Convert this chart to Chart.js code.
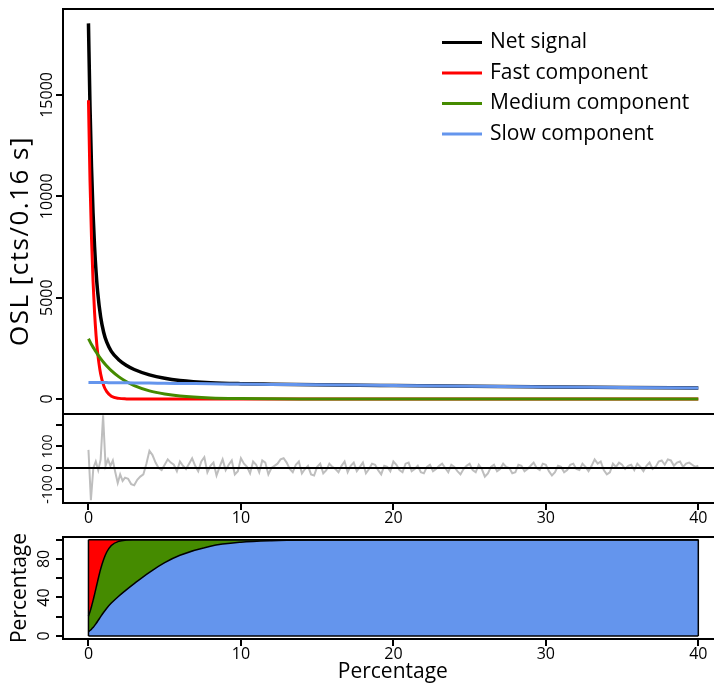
<!DOCTYPE html>
<html>
<head>
<meta charset="utf-8">
<title>OSL curve deconvolution</title>
<script src="https://cdn.jsdelivr.net/npm/chart.js@4.4.1/dist/chart.umd.min.js"></script>
<style>
  html, body { margin: 0; padding: 0; background: #fff; overflow: hidden; }
  #wrap { position: relative; width: 714px; height: 685px; overflow: hidden; }
  canvas { position: absolute; left: 0; }
  #topChart { top: 0; }
  #resChart { top: 412px; }
  #pctChart { top: 530px; }
</style>
</head>
<body>
<div id="wrap">
  <canvas id="topChart" width="724" height="416"></canvas>
  <canvas id="resChart" width="724" height="118"></canvas>
  <canvas id="pctChart" width="724" height="155"></canvas>
</div>
<script>
// Values (time in s)
const fitTime    = [0, 0.1, 0.2, 0.3, 0.4, 0.5, 0.6, 0.8, 1, 1.2, 1.5, 2, 2.5, 3, 4, 5, 6, 8, 10, 12, 15, 20, 25, 30, 35, 40];
const netSignal  = [18530, 14460, 11440, 9190, 7520, 6260, 5310, 4040, 3280, 2800, 2350, 1925, 1655, 1455, 1190, 1020, 915, 805, 755, 730, 700, 662, 628, 597, 567, 540];
const fastComp   = [14740, 10810, 7930, 5820, 4270, 3130, 2300, 1230, 660, 360, 140, 30, 6, 1, 0, 0, 0, 0, 0, 0, 0, 0, 0, 0, 0, 0];
const mediumComp = [2975, 2830, 2690, 2560, 2440, 2320, 2200, 1990, 1800, 1630, 1400, 1090, 850, 660, 400, 245, 150, 55, 20, 7, 2, 0, 0, 0, 0, 0];
const slowComp   = [818, 817, 816, 815, 815, 814, 813, 811, 810, 808, 805, 801, 797, 793, 785, 776, 768, 752, 736, 721, 698, 662, 628, 597, 567, 540];

// component contribution in percent (cumulative, slow at the bottom)
const pctSlow    = [4.4, 5.7, 7.1, 8.9, 10.8, 13.0, 15.3, 20.1, 24.7, 28.9, 34.2, 41.6, 48.2, 54.4, 66.1, 76.1, 83.8, 93.3, 97.4, 99.0, 99.7, 100, 100, 100, 100, 100];
const pctSlowMed = [20.5, 25.2, 30.7, 36.7, 43.3, 50.0, 56.8, 69.5, 79.7, 87.2, 94.0, 98.4, 99.6, 99.9, 100, 100, 100, 100, 100, 100, 100, 100, 100, 100, 100, 100];
const pctTop     = [100, 100, 100, 100, 100, 100, 100, 100, 100, 100, 100, 100, 100, 100, 100, 100, 100, 100, 100, 100, 100, 100, 100, 100, 100, 100];
const pctBase    = [0, 0, 0, 0, 0, 0, 0, 0, 0, 0, 0, 0, 0, 0, 0, 0, 0, 0, 0, 0, 0, 0, 0, 0, 0, 0];

// residuals of the fit
const resTime = [0, 0.16, 0.32, 0.48, 0.64, 0.8, 0.96, 1.12, 1.28, 1.44, 1.6, 1.76, 1.92, 2.08, 2.24, 2.4,
  2.6, 2.8, 3, 3.2, 3.4, 3.6, 3.8, 4, 4.2, 4.4,
  4.6, 4.8, 5, 5.2, 5.4, 5.6, 5.8, 6, 6.2, 6.4,
  6.6, 6.8, 7, 7.2, 7.4, 7.6, 7.8, 8, 8.2, 8.4,
  8.6, 8.8, 9, 9.2, 9.4, 9.6, 9.8, 10, 10.2, 10.4,
  10.6, 10.8, 11, 11.2, 11.4, 11.6, 11.8, 12, 12.2, 12.4,
  12.6, 12.8, 13, 13.2, 13.4, 13.6, 13.8, 14, 14.2, 14.4,
  14.6, 14.8, 15, 15.2, 15.4, 15.6, 15.8, 16, 16.2, 16.4,
  16.6, 16.8, 17, 17.2, 17.4, 17.6, 17.8, 18, 18.2, 18.4,
  18.6, 18.8, 19, 19.2, 19.4, 19.6, 19.8, 20, 20.2, 20.4,
  20.6, 20.8, 21, 21.2, 21.4, 21.6, 21.8, 22, 22.2, 22.4,
  22.6, 22.8, 23, 23.2, 23.4, 23.6, 23.8, 24, 24.2, 24.4,
  24.6, 24.8, 25, 25.2, 25.4, 25.6, 25.8, 26, 26.2, 26.4,
  26.6, 26.8, 27, 27.2, 27.4, 27.6, 27.8, 28, 28.2, 28.4,
  28.6, 28.8, 29, 29.2, 29.4, 29.6, 29.8, 30, 30.2, 30.4,
  30.6, 30.8, 31, 31.2, 31.4, 31.6, 31.8, 32, 32.2, 32.4,
  32.6, 32.8, 33, 33.2, 33.4, 33.6, 33.8, 34, 34.2, 34.4,
  34.6, 34.8, 35, 35.2, 35.4, 35.6, 35.8, 36, 36.2, 36.4,
  36.6, 36.8, 37, 37.2, 37.4, 37.6, 37.8, 38, 38.2, 38.4,
  38.6, 38.8, 39, 39.2, 39.4, 39.6, 39.8, 40];
const residuals = [84, -150, 0, 30, -10, 40, 245, 10, 40, 10, 35, -20, -70, -30, -60, -45,
  -50, -75, -80, -55, -40, -30, 20, 80, 60, 25,
  0, -10, 15, 40, 25, 15, -15, 30, 10, -5,
  20, 45, 10, -15, 30, 50, -20, 10, 25, -35,
  5, 40, -10, 15, 35, -30, -15, 45, 20, 5,
  -25, 30, 15, -20, 35, 25, -30, 0, 10, 20,
  40, 45, 25, -5, -20, 15, 30, -25, -5, 10,
  -30, -35, 5, 20, -25, -10, 20, 5, -5, -20,
  10, 30, -20, 10, 25, -15, 5, 25, -25, -5,
  20, 15, -10, -30, 10, 5, -15, 30, 15, -10,
  -20, 20, 25, -15, -5, 10, -20, -25, 5, 15,
  -15, -5, 10, 20, 0, -20, 15, 5, -15, -30,
  -5, 10, 20, -10, -20, 15, -5, -40, -25, 5,
  15, -15, -5, 20, 5, 0, -25, -20, 15, 10,
  -15, -5, 10, 25, 0, -10, 20, 15, -15, -35,
  -20, 10, 5, -20, -10, 15, 20, -5, -10, 20,
  5, -15, 10, 40, 20, 30, -10, -30, -20, 20,
  5, 25, 15, -5, 10, 15, -10, 20, 5, -15,
  10, 25, -5, 5, 30, 35, 15, 40, 35, 10,
  25, 30, 5, 20, 25, 15, 5, 10];

// axes
const timeTicks = [0, 10, 20, 30, 40];
const oslTicks = [0, 5000, 10000, 15000];
const resTicks = [-100, 0, 100, 200];
const resTickLabels = ["-100", "0", "100", ""];
const pctTicks = [0, 20, 40, 60, 80, 100];
const pctTickLabels = ["0", "", "40", "", "80", ""];

const X_MIN = -1.67, X_MAX = 41.6;

Chart.defaults.font.family = "'Open Sans', sans-serif";
Chart.defaults.color = "#000";
Chart.defaults.animation = false;

function pts(xs, ys) {
  return xs.map((x, i) => ({ x: x, y: ys[i] }));
}

// R-like box around the plot region
const boxPlugin = {
  id: "box",
  afterDraw(chart) {
    const { ctx, chartArea: a } = chart;
    ctx.save();
    ctx.strokeStyle = "#000";
    ctx.lineWidth = 2;
    ctx.strokeRect(a.left, a.top, a.right - a.left, a.bottom - a.top);
    ctx.restore();
  },
};

// horizontal line at zero for the residuals
const zeroLinePlugin = {
  id: "zeroLine",
  afterDatasetsDraw(chart) {
    const { ctx, chartArea: a } = chart;
    const y = chart.scales.y.getPixelForValue(0);
    ctx.save();
    ctx.strokeStyle = "#000";
    ctx.lineWidth = 2;
    ctx.beginPath();
    ctx.moveTo(a.left, y);
    ctx.lineTo(a.right, y);
    ctx.stroke();
    ctx.restore();
  },
};

// legend in the top right corner of the plot
const cornerLegend = {
  id: "cornerLegend",
  afterDraw(chart) {
    const ctx = chart.ctx;
    ctx.save();
    ctx.font = "21px 'Open Sans'";
    ctx.textBaseline = "middle";
    chart.data.datasets.forEach((ds, i) => {
      const y = 42.5 + i * 30.5;
      ctx.strokeStyle = ds.borderColor;
      ctx.lineWidth = 3;
      ctx.beginPath();
      ctx.moveTo(442, y);
      ctx.lineTo(482, y);
      ctx.stroke();
      ctx.fillStyle = "#000";
      ctx.fillText(ds.label, 490, y);
    });
    ctx.restore();
  },
};

// rotated y title for the top panel
const sideTitle = {
  id: "sideTitle",
  afterDraw(chart, args, opts) {
    if (!opts.text) return;
    const ctx = chart.ctx;
    ctx.save();
    ctx.translate(opts.x, opts.y);
    ctx.rotate(-Math.PI / 2);
    ctx.textAlign = "center";
    ctx.textBaseline = "middle";
    ctx.font = opts.font;
    ctx.letterSpacing = opts.spacing || "0px";
    ctx.fillStyle = "#000";
    ctx.fillText(opts.text, 0, 0);
    ctx.restore();
  },
};

function xAxis(show) {
  return {
    type: "linear",
    min: X_MIN,
    max: X_MAX,
    display: show,
    afterBuildTicks: (s) => { s.ticks = timeTicks.map((v) => ({ value: v })); },
    grid: { drawOnChartArea: false, color: "#000", lineWidth: 2, tickLength: 7 },
    border: { display: false },
    ticks: { font: { size: 16 }, color: "#000", padding: -1, maxRotation: 0, autoSkip: false,
      callback: (v) => String(v) },
  };
}

function yAxis(min, max, tickVals, labelFn, pad, size) {
  return {
    type: "linear",
    min: min,
    max: max,
    afterBuildTicks: (s) => { s.ticks = tickVals.map((v) => ({ value: v })); },
    afterFit: (s) => { s.width = 63; s.paddingTop = 0; s.paddingBottom = 0; },
    grid: { drawOnChartArea: false, color: "#000", lineWidth: 2, tickLength: 7 },
    border: { display: false },
    ticks: { font: { size: size || 16 }, color: "#000", minRotation: 90, maxRotation: 90,
      crossAlign: "center", padding: pad, autoSkip: false, callback: labelFn },
  };
}

const common = {
  responsive: false,
  animation: false,
  events: [],
  elements: { point: { radius: 0 }, line: { fill: false } },
};

// top panel: decay curve and its components
new Chart(document.getElementById("topChart"), {
  type: "line",
  data: {
    datasets: [
      { label: "Net signal", data: pts(fitTime, netSignal), borderColor: "#000000", borderWidth: 3.5, order: 4 },
      { label: "Fast component", data: pts(fitTime, fastComp), borderColor: "#ff0000", borderWidth: 3, order: 3 },
      { label: "Medium component", data: pts(fitTime, mediumComp), borderColor: "#458b00", borderWidth: 3, order: 2 },
      { label: "Slow component", data: pts(fitTime, slowComp), borderColor: "#6495ed", borderWidth: 3, order: 1 },
    ],
  },
  options: Object.assign({}, common, {
    layout: { autoPadding: false, padding: { top: 9, bottom: 2, left: 0, right: 1.3 } },
    datasets: { line: { cubicInterpolationMode: "monotone" } },
    scales: {
      x: xAxis(false),
      y: yAxis(-740, 19240, oslTicks, (v) => String(v), -14),
    },
    plugins: {
      legend: { display: false },
      tooltip: { enabled: false },
      sideTitle: { text: "OSL [cts/0.16 s]", x: 21, y: 241, font: "26px 'Open Sans'", spacing: "1.5px" },
    },
  }),
  plugins: [boxPlugin, cornerLegend, sideTitle],
});

// middle panel: residuals
new Chart(document.getElementById("resChart"), {
  type: "line",
  data: {
    datasets: [
      { label: "Residuals", data: pts(resTime, residuals), borderColor: "#bebebe", borderWidth: 2 },
    ],
  },
  options: Object.assign({}, common, {
    layout: { autoPadding: false, padding: { top: 2, bottom: 0, left: 0, right: 1.3 } },
    scales: {
      x: Object.assign(xAxis(true), {
        afterFit: (s) => { s.height = 27; s.paddingLeft = 0; s.paddingRight = 0; },
      }),
      y: yAxis(-163, 251, resTicks, (v, i) => resTickLabels[i], -6, 14),
    },
    plugins: { legend: { display: false }, tooltip: { enabled: false } },
  }),
  plugins: [boxPlugin, zeroLinePlugin],
});

// bottom panel: contribution of each component in percent
const edgeStyle = { borderColor: "#000", borderWidth: 1.5, fill: false };
new Chart(document.getElementById("pctChart"), {
  type: "line",
  data: {
    datasets: [
      { label: "Fast", data: pts(fitTime, pctTop), borderColor: "#000", borderWidth: 1.5, backgroundColor: "#ff0000", fill: "+1" },
      { label: "Medium", data: pts(fitTime, pctSlowMed), borderColor: "#000", borderWidth: 1.5, backgroundColor: "#458b00", fill: "+1" },
      { label: "Slow", data: pts(fitTime, pctSlow), borderColor: "#000", borderWidth: 1.5, backgroundColor: "#6495ed", fill: "+1" },
      Object.assign({ label: "base", data: pts(fitTime, pctBase) }, edgeStyle),
      Object.assign({ label: "start", data: [{ x: fitTime[0], y: pctBase[0] }, { x: fitTime[0], y: pctTop[0] }] }, edgeStyle),
      Object.assign({ label: "end", data: [{ x: fitTime[fitTime.length - 1], y: pctBase[0] }, { x: fitTime[fitTime.length - 1], y: pctTop[0] }] }, edgeStyle),
    ],
  },
  options: Object.assign({}, common, {
    layout: { autoPadding: false, padding: { top: 7, bottom: 0, left: 0, right: 1.3 } },
    datasets: { line: { cubicInterpolationMode: "monotone" } },
    scales: {
      x: Object.assign(xAxis(true), {
        afterFit: (s) => { s.height = 46; s.paddingLeft = 0; s.paddingRight = 0; },
        title: { display: true, text: "Percentage", font: { size: 21 }, padding: { top: 0, bottom: 0 } },
      }),
      y: Object.assign(yAxis(-3.1, 102.8, pctTicks, (v, i) => pctTickLabels[i], 2), {
        title: { display: true, text: "Percentage", font: { size: 21 }, padding: { top: 7, bottom: 0 } },
      }),
    },
    plugins: {
      legend: { display: false },
      tooltip: { enabled: false },
      filler: { drawTime: "beforeDatasetsDraw" },
    },
  }),
  plugins: [boxPlugin],
});
</script>
</body>
</html>
